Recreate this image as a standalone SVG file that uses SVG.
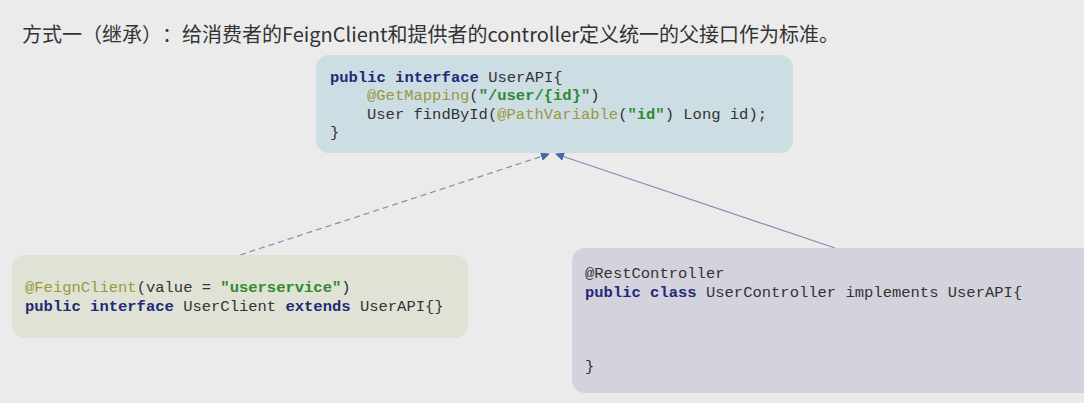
<svg xmlns="http://www.w3.org/2000/svg" width="1084" height="403" viewBox="0 0 1084 403">
<style>
.code{font-family:"Liberation Mono","DejaVu Sans Mono",monospace;font-size:15.5px;fill:#333;white-space:pre}
.kw{fill:#1f2a78;font-weight:bold}
.an{fill:#9a9838}
.st{fill:#2f8a2f;font-weight:bold}
.title{font-family:"Noto Sans CJK SC","Noto Sans",sans-serif;font-size:20px;fill:#333;text-spacing-trim:space-all}
.edge{fill:none;stroke:#7f8fae;stroke-width:1.2}
</style>
<defs>
<marker id="arr" viewBox="0 0 10 10" refX="9" refY="5" markerWidth="9" markerHeight="9" markerUnits="userSpaceOnUse" orient="auto">
<path d="M0,0 L10,5 L0,10 z" fill="#4a68a6"/>
</marker>
</defs>
<rect width="1084" height="403" fill="#ebebeb"/>
<text class="title" x="22" y="41.5">方式一（继承）：给消费者的FeignClient和提供者的controller定义统一的父接口作为标准。</text>
<g id="connectors">
<line class="edge" x1="240" y1="255" x2="549" y2="154" stroke-dasharray="6,4" marker-end="url(#arr)"/>
<line class="edge" x1="835" y1="248" x2="556" y2="154" marker-end="url(#arr)"/>
</g>
<g id="userapi">
<rect x="316" y="55" width="477" height="98" rx="13" fill="#cddde4"/>
<text class="code" x="330" y="82"><tspan class="kw">public interface</tspan> UserAPI{</text>
<text class="code" x="367" y="100"><tspan class="an">@GetMapping</tspan>(<tspan class="st">"/user/{id}"</tspan>)</text>
<text class="code" x="367" y="119">User findById(<tspan class="an">@PathVariable</tspan>(<tspan class="st">"id"</tspan>) Long id);</text>
<text class="code" x="330" y="137">}</text>
</g>
<g id="userclient">
<rect x="12" y="255" width="456" height="83" rx="13" fill="#dfe2d5"/>
<text class="code" x="25" y="292"><tspan class="an">@FeignClient</tspan>(value = <tspan class="st">"userservice"</tspan>)</text>
<text class="code" x="25" y="311"><tspan class="kw">public interface</tspan> UserClient <tspan class="kw">extends</tspan> UserAPI{}</text>
</g>
<g id="usercontroller">
<rect x="572" y="248" width="530" height="145" rx="13" fill="#d4d3dd"/>
<text class="code" x="585" y="278">@RestController</text>
<text class="code" x="585" y="297"><tspan class="kw">public class</tspan> UserController implements UserAPI{</text>
<text class="code" x="585" y="371">}</text>
</g>
</svg>
